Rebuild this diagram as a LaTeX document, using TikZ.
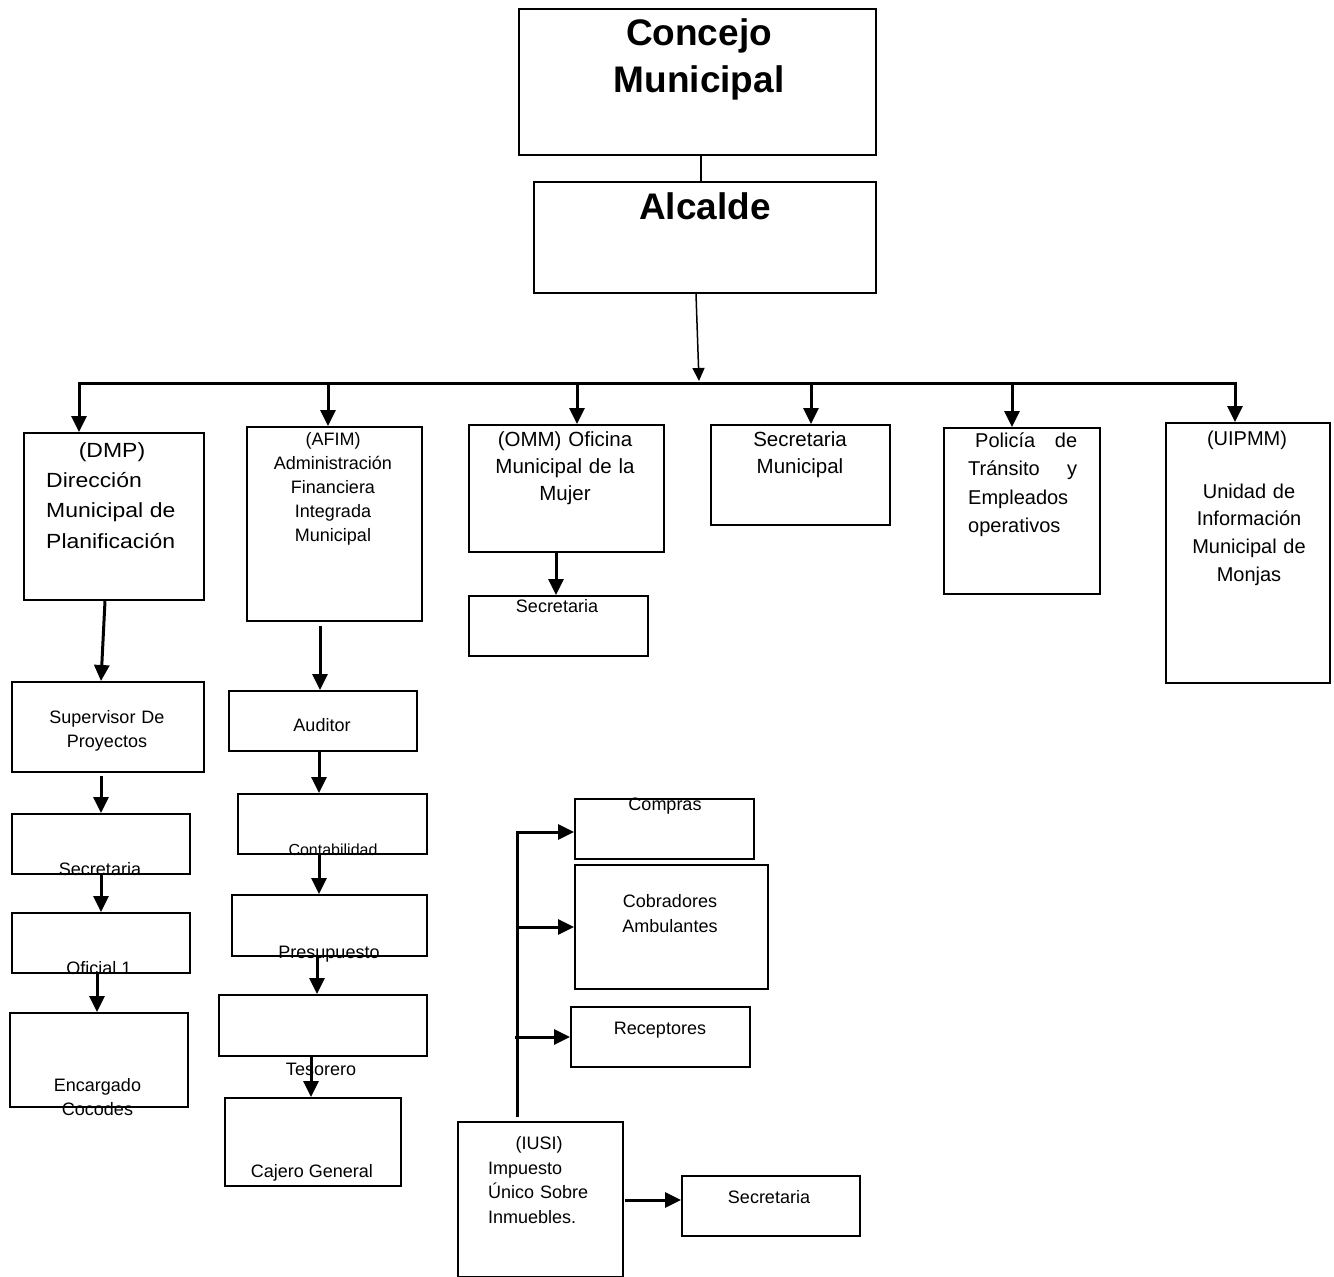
\documentclass[tikz,border=0pt]{standalone}
\usepackage{fontspec}
\setmainfont{Liberation Sans}
\newfontfamily\dmpfont[FakeStretch=1.12]{Liberation Sans}
\usetikzlibrary{arrows.meta}
\newcommand\fsTitle{\bfseries\fontsize{37}{47}\selectfont}
\newcommand\fsDmp{\dmpfont\fontsize{20.5}{30.5}\selectfont}
\newcommand\fsMid{\fontsize{20.5}{27}\selectfont}
\newcommand\fsPol{\fontsize{20}{28.5}\selectfont}
\newcommand\fsUip{\fontsize{20}{27.7}\selectfont}
\newcommand\fsSm{\fontsize{18}{24}\selectfont}
\newcommand\fsCob{\fontsize{18}{25}\selectfont}
\newcommand\fsIusi{\fontsize{18}{24.5}\selectfont}
\newcommand\fsCont{\fontsize{16}{20}\selectfont}
\begin{document}
\begin{tikzpicture}[x=1pt,y=-1pt,
  box/.style={draw, line width=2.2pt, inner sep=0pt, anchor=north west},
  conn/.style={line width=3pt},
  arr/.style={conn, -{Triangle[length=16pt,width=15pt]}},
  thinarr/.style={line width=1.5pt, -{Triangle[length=13pt,width=12pt]}},
  lbl/.style={inner sep=0pt, anchor=base, font=\fsSm}]
\fill[white] (0,0) rectangle (1334,1277);
\useasboundingbox (0,0) rectangle (1334,1277);

% ---- boxes ----
\node[box, minimum width=357pt, minimum height=146pt] (concejo) at (518,8) {};
\node[box, minimum width=342pt, minimum height=111pt] (alcalde) at (533,181) {};
\node[box, minimum width=180pt, minimum height=167pt] (dmp) at (23,432) {};
\node[box, minimum width=175pt, minimum height=194pt] (afim) at (246,426) {};
\node[box, minimum width=195pt, minimum height=127pt] (omm) at (468,424) {};
\node[box, minimum width=179pt, minimum height=60pt] (omsec) at (468,595) {};
\node[box, minimum width=179pt, minimum height=100pt] (secmun) at (710,424) {};
\node[box, minimum width=156pt, minimum height=166pt] (pol) at (943,427) {};
\node[box, minimum width=164pt, minimum height=260pt] (uip) at (1165,422) {};
\node[box, minimum width=192pt, minimum height=90pt] (sup) at (11,681) {};
\node[box, minimum width=178pt, minimum height=60pt] (dsec) at (11,813) {};
\node[box, minimum width=178pt, minimum height=60pt] (ofi) at (11,912) {};
\node[box, minimum width=178pt, minimum height=94pt] (enc) at (9,1012) {};
\node[box, minimum width=188pt, minimum height=60pt] (aud) at (228,690) {};
\node[box, minimum width=189pt, minimum height=60pt] (cont) at (237,793) {};
\node[box, minimum width=195pt, minimum height=61pt] (pres) at (231,894) {};
\node[box, minimum width=208pt, minimum height=61pt] (tes) at (218,994) {};
\node[box, minimum width=176pt, minimum height=88pt] (caj) at (224,1097) {};
\node[box, minimum width=179pt, minimum height=60pt] (comp) at (574,798) {};
\node[box, minimum width=193pt, minimum height=124pt] (cob) at (574,864) {};
\node[box, minimum width=179pt, minimum height=60pt] (rec) at (570,1006) {};
\node[box, minimum width=165pt, minimum height=155pt] (iusi) at (457,1121) {};
\node[box, minimum width=178pt, minimum height=60pt] (isec) at (681,1175) {};

% ---- texts ----
\node[lbl, font=\fsTitle, text width=300pt, align=center] (tconcejo) at (699,45) {Concejo\\Municipal};
\node[lbl, font=\fsTitle] (talc) at (705,219) {Alcalde};
\node[lbl, font=\fsDmp] (tdmp1) at (112,457) {(DMP)};
\node[lbl, font=\fsDmp, anchor=base west, text width=150pt, align=left] (tdmp2) at (46,487) {Dirección\\Municipal de\\Planificación};
\node[lbl, text width=170pt, align=center] (tafim) at (333,445) {(AFIM)\\Administración\\Financiera\\Integrada\\Municipal};
\node[lbl, font=\fsMid, text width=190pt, align=center] (tomm) at (565,446) {(OMM) Oficina\\Municipal de la\\Mujer};
\node[lbl] (tomsec) at (557,612) {Secretaria};
\node[lbl, font=\fsMid, text width=170pt, align=center] (tsecmun) at (800,446) {Secretaria\\Municipal};
\node[lbl, font=\fsPol, anchor=base west, text width=109pt, align=left] (tpol) at (968,447) {\hspace*{7pt}Policía\hfill de\\Tránsito\hfill y\\Empleados\\operativos};
\node[lbl, font=\fsUip] (tuip1) at (1247,445) {(UIPMM)};
\node[lbl, font=\fsUip, text width=160pt, align=center] (tuip2) at (1249,498) {Unidad de\\Información\\Municipal de\\Monjas};
\node[lbl, text width=180pt, align=center] (tsup) at (107,723) {Supervisor De\\Proyectos};
\node[lbl] (tdsec) at (100,875) {Secretaria};
\node[lbl] (tofi) at (99,974) {Oficial 1};
\node[lbl, text width=170pt, align=center] (tenc) at (97.5,1091) {Encargado\\Cocodes};
\node[lbl] (taud) at (322,731) {Auditor};
\node[lbl, font=\fsCont] (tcont) at (333,855) {Contabilidad};
\node[lbl] (tpres) at (329,958) {Presupuesto};
\node[lbl] (ttes) at (321,1075) {Tesorero};
\node[lbl] (tcaj) at (312,1177) {Cajero General};
\node[lbl] (tcomp) at (665,810) {Compras};
\node[lbl, font=\fsCob, text width=180pt, align=center] (tcob) at (670,907) {Cobradores\\Ambulantes};
\node[lbl] (trec) at (660,1034) {Receptores};
\node[lbl] (tiusi1) at (539,1149) {(IUSI)};
\node[lbl, font=\fsIusi, anchor=base west, text width=130pt, align=left] (tiusi2) at (488,1174) {Impuesto\\Único Sobre\\Inmuebles.};
\node[lbl] (tisec) at (769,1203) {Secretaria};

% ---- connectors ----
\draw[line width=2pt] ([xshift=183pt]concejo.south west) -- ([xshift=168pt]alcalde.north west);
\coordinate (busmid) at (699,381);
\draw[thinarr] ([xshift=163pt]alcalde.south west) -- (busmid);

\coordinate (b1) at (79,383);
\coordinate (b2) at (328,383);
\coordinate (b3) at (577,383);
\coordinate (b4) at (811,383);
\coordinate (b5) at (1012,383);
\coordinate (b6) at (1235,383);
\draw[conn, line cap=rect] (b1) -- (b6);
\draw[arr] (b1) -- (b1 |- dmp.north);
\draw[arr] (b2) -- (b2 |- afim.north);
\draw[arr] (b3) -- (b3 |- omm.north);
\draw[arr] (b4) -- (b4 |- secmun.north);
\draw[arr] (b5) -- (b5 |- pol.north);
\draw[arr] (b6) -- (b6 |- uip.north);

% DMP column
\draw[arr] ([xshift=82pt]dmp.south west) -- ([xshift=90pt]sup.north west);
\draw[arr] ([xshift=90pt,yshift=-3pt]sup.south west) -- ([xshift=90pt]dsec.north west);
\draw[arr] ([xshift=90pt]dsec.south west) -- ([xshift=90pt]ofi.north west);
\draw[arr] ([xshift=86pt]ofi.south west) -- ([xshift=88pt]enc.north west);

% AFIM column
\draw[arr] ([xshift=74pt,yshift=-4pt]afim.south west) -- ([xshift=92pt]aud.north west);
\draw[arr] ([xshift=91pt]aud.south west) -- ([xshift=82pt]cont.north west);
\draw[arr] ([xshift=82pt]cont.south west) -- ([xshift=88pt]pres.north west);
\draw[arr] ([xshift=86pt]pres.south west) -- ([xshift=99pt]tes.north west);
\draw[arr] ([xshift=93pt]tes.south west) -- ([xshift=87pt]caj.north west);

% OMM
\draw[arr] ([xshift=88pt]omm.south west) -- ([xshift=88pt]omsec.north west);

% IUSI
\coordinate (tt) at (517,832);
\coordinate (tc) at (517,927);
\coordinate (tr) at (515,1037);
\draw[arr] ([xshift=60pt,yshift=4pt]iusi.north west) -- (tt) -- (tt -| comp.west);
\draw[arr] (tc) -- (tc -| cob.west);
\draw[arr] (tr) -- (tr -| rec.west);
\draw[arr] ([xshift=1pt,yshift=-79pt]iusi.north east) -- ([yshift=-25pt]isec.north west);
\end{tikzpicture}
\end{document}
